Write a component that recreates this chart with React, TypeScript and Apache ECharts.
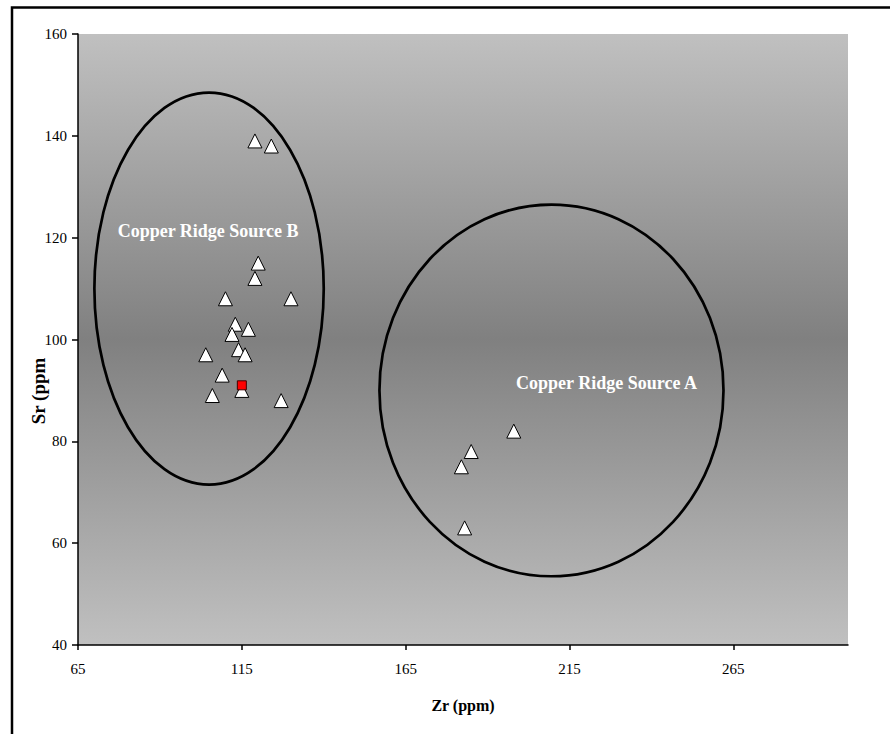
import React, { useEffect, useRef } from "react";
import * as echarts from "echarts";

// Sample points (Zr, Sr in ppm)
const zrValues = [119, 124, 120, 119, 110, 130, 113, 117, 112, 114, 116, 104, 109, 115, 106, 127, 198, 185, 182, 183];
const srValues = [139, 138, 115, 112, 108, 108, 103, 102, 101, 98, 97, 97, 93, 90, 89, 88, 82, 78, 75, 63];

// Highlighted sample
const highlightZr = [115];
const highlightSr = [91];

// Source ellipses: centre Zr, centre Sr, half-width (Zr), half-height (Sr)
const ellipseCx = [105, 209.5];
const ellipseCy = [110, 90];
const ellipseRx = [35, 52.5];
const ellipseRy = [38.5, 36.5];

// Source labels
const sourceNames = ["Copper Ridge Source B", "Copper Ridge Source A"];
const sourceLabelZr = [104.7, 226.3];
const sourceLabelSr = [121.3, 91.5];

// Axis ticks
const xTicks = [65, 115, 165, 215, 265];

const FONT = "Liberation Serif";

export default function App() {
  const ref = useRef<HTMLDivElement>(null);

  useEffect(() => {
    if (!ref.current) return;
    const chart = echarts.init(ref.current, undefined, { renderer: "svg" });

    const points = zrValues.map((z, i) => [z, srValues[i]]);
    const highlight = highlightZr.map((z, i) => [z, highlightSr[i]]);
    const ellipses = ellipseCx.map((c, i) => [c, ellipseCy[i], ellipseRx[i], ellipseRy[i]]);
    const labels = sourceNames.map((n, i) => [sourceLabelZr[i], sourceLabelSr[i], i]);

    chart.setOption({
      animation: false,
      textStyle: { fontFamily: FONT },
      grid: {
        left: 78,
        top: 34,
        right: 42,
        bottom: 89,
        show: true,
        borderWidth: 0,
        backgroundColor: new echarts.graphic.LinearGradient(0, 0, 0, 1, [
          { offset: 0, color: "#c0c0c0" },
          { offset: 0.5, color: "#808080" },
          { offset: 1, color: "#c0c0c0" },
        ]),
      },
      graphic: [
        {
          type: "rect",
          shape: { x: 12, y: 7.5, width: 1000, height: 1000 },
          style: { fill: "none", stroke: "#000", lineWidth: 2.5 },
          silent: true,
        },
        {
          type: "text",
          x: 38,
          y: 391,
          rotation: Math.PI / 2,
          style: {
            text: "Sr (ppm",
            fontFamily: FONT,
            fontWeight: "bold",
            fontSize: 19,
            fill: "#000",
            align: "center",
            verticalAlign: "middle",
          },
        },
      ],
      xAxis: {
        type: "value",
        min: 65,
        max: 300,
        name: "Zr (ppm)",
        nameLocation: "middle",
        nameGap: 52,
        nameTextStyle: { fontFamily: FONT, fontWeight: "bold", fontSize: 16, color: "#000" },
        splitLine: { show: false },
        axisLine: { show: true, onZero: false, lineStyle: { color: "#000", width: 1.5 } },
        axisTick: { show: true, length: 5, customValues: xTicks, lineStyle: { color: "#000", width: 1.5 } },
        axisLabel: { customValues: xTicks, fontFamily: FONT, fontSize: 15, color: "#000", margin: 16 },
      },
      yAxis: {
        type: "value",
        min: 40,
        max: 160,
        interval: 20,
        splitLine: { show: false },
        axisLine: { show: true, onZero: false, lineStyle: { color: "#000", width: 1.5 } },
        axisTick: { show: true, length: 6, lineStyle: { color: "#000", width: 1.5 } },
        axisLabel: { fontFamily: FONT, fontSize: 15, color: "#000", margin: 11 },
      },
      series: [
        {
          type: "custom",
          data: ellipses,
          encode: { x: 0, y: 1 },
          silent: true,
          renderItem: (params: any, api: any) => {
            const c = api.coord([api.value(0), api.value(1)]);
            const s = api.size([api.value(2), api.value(3)]);
            return {
              type: "ellipse",
              shape: { cx: c[0], cy: c[1], rx: s[0], ry: s[1] },
              style: { fill: "none", stroke: "#000", lineWidth: 2.7 },
            };
          },
          z: 1,
        },
        {
          type: "custom",
          data: labels,
          encode: { x: 0, y: 1 },
          silent: true,
          renderItem: (params: any, api: any) => {
            const c = api.coord([api.value(0), api.value(1)]);
            return {
              type: "text",
              x: c[0],
              y: c[1],
              style: {
                text: sourceNames[params.dataIndex],
                fontFamily: FONT,
                fontWeight: "bold",
                fontSize: 18,
                fill: "#ffffff",
                align: "center",
                verticalAlign: "middle",
              },
            };
          },
          z: 2,
        },
        {
          type: "scatter",
          data: points,
          symbol: "triangle",
          symbolSize: [14, 14],
          itemStyle: { color: "#ffffff", borderColor: "#000", borderWidth: 1, opacity: 1 },
          z: 3,
        },
        {
          type: "scatter",
          data: highlight,
          symbol: "rect",
          symbolSize: 9,
          itemStyle: { color: "#ff0000", borderColor: "#400000", borderWidth: 1, opacity: 1 },
          z: 4,
        },
      ],
    });

    return () => chart.dispose();
  }, []);

  return (
    <div
      ref={ref}
      style={{ position: "absolute", left: 0, top: 0, width: 890, height: 734, background: "#fff" }}
    />
  );
}
